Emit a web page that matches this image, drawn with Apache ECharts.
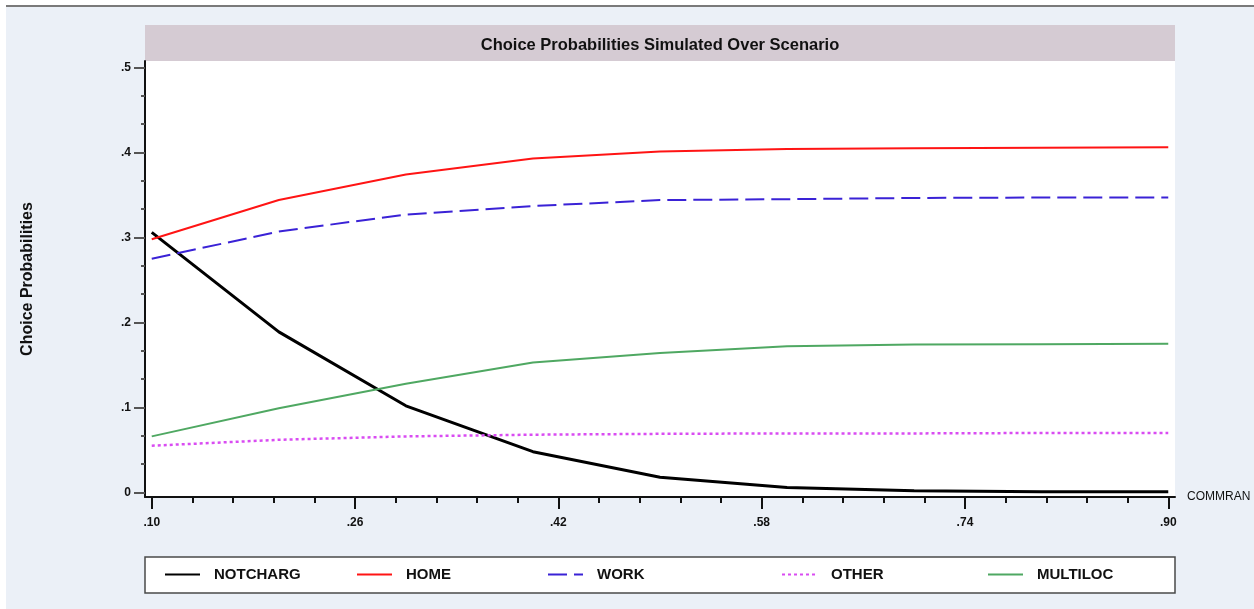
<!DOCTYPE html>
<html>
<head>
    <meta charset="UTF-8">
    <title>Choice Probabilities Simulated Over Scenario</title>
    <script type="text/javascript" src="https://cdn.jsdelivr.net/npm/echarts@6/dist/echarts.min.js"></script>
    <style>
        body { margin: 0; background: #ffffff; }
        #main { width: 1254px; height: 609px; }
    </style>
</head>
<body>
<div id="main"></div>
<script type="text/javascript">
    // scenario values (COMMRAN)
    var commran = [0.1, 0.2, 0.3, 0.4, 0.5, 0.6, 0.7, 0.8, 0.9];
    // simulated choice probabilities
    var notcharg = [0.306, 0.189, 0.102, 0.048, 0.018, 0.006, 0.002, 0.001, 0.001];
    var home     = [0.298, 0.344, 0.374, 0.393, 0.401, 0.404, 0.405, 0.4055, 0.406];
    var work     = [0.275, 0.307, 0.327, 0.337, 0.344, 0.345, 0.3465, 0.347, 0.347];
    var other    = [0.055, 0.062, 0.066, 0.068, 0.069, 0.0695, 0.0695, 0.070, 0.070];
    var multiloc = [0.066, 0.099, 0.128, 0.153, 0.164, 0.172, 0.174, 0.1745, 0.175];

    // tick labels / tick marks
    var xMajor = [0.10, 0.26, 0.42, 0.58, 0.74, 0.90];
    var xMinor = [0.132, 0.164, 0.196, 0.228, 0.292, 0.324, 0.356, 0.388, 0.452, 0.484,
                  0.516, 0.548, 0.612, 0.644, 0.676, 0.708, 0.772, 0.804, 0.836, 0.868];
    var yMajor = [0, 0.1, 0.2, 0.3, 0.4, 0.5];
    var yMinor = [0.0333, 0.0667, 0.1333, 0.1667, 0.2333, 0.2667, 0.3333, 0.3667, 0.4333, 0.4667];

    var FONT = "'Liberation Sans', Arial, sans-serif";

    function pairs(ys) {
        return commran.map(function (x, i) { return [x, ys[i]]; });
    }
    function stripZero(s) {
        return s === '0' ? '0' : s.replace(/^0/, '');
    }

    var myChart = echarts.init(document.getElementById('main'));

    var xRange = {min: 0.0947, max: 0.9053};
    var yRange = {min: -0.0053, max: 0.5076};

    var legendStyle = {fontFamily: FONT, fontWeight: 'bold', fontSize: 15, color: '#111', padding: [0, 0, 0, 9]};
    function oneLegend(name, left) {
        return {
            data: [name], left: left, top: 567, padding: 0,
            itemWidth: 35, itemHeight: 14, selectedMode: false,
            itemStyle: {opacity: 0},
            textStyle: legendStyle, z: 10
        };
    }

    var option = {
        animation: false,
        backgroundColor: '#ffffff',
        textStyle: {fontFamily: FONT},
        graphic: [
            {type: 'rect', z: -10, shape: {x: 6, y: 7, width: 1248, height: 602}, style: {fill: '#ebf0f7'}},
            {type: 'rect', z: -9, shape: {x: 6, y: 5, width: 1248, height: 2}, style: {fill: '#7a7a7a'}},
            {type: 'rect', z: -8, shape: {x: 145, y: 25, width: 1030, height: 36}, style: {fill: '#d5cbd3'}},
            {type: 'rect', z: -8, shape: {x: 145, y: 557, width: 1030, height: 36},
                style: {fill: '#ffffff', stroke: '#4a4a4a', lineWidth: 1.5}}
        ],
        title: {
            text: 'Choice Probabilities Simulated Over Scenario',
            left: 660, top: 37, padding: 0, textAlign: 'center',
            textStyle: {fontFamily: FONT, fontWeight: 'bold', fontSize: 16.5, color: '#111'}
        },
        legend: [
            oneLegend('NOTCHARG', 164),
            oneLegend('HOME', 356),
            oneLegend('WORK', 547),
            oneLegend('OTHER', 781),
            oneLegend('MULTILOC', 987)
        ],
        grid: {
            left: 145, top: 61, width: 1030, height: 436,
            show: true, backgroundColor: '#ffffff', borderWidth: 0
        },
        xAxis: [{
            type: 'value', min: xRange.min, max: xRange.max,
            name: 'COMMRAN', nameLocation: 'end', nameGap: 12,
            nameTextStyle: {fontFamily: FONT, fontSize: 12, color: '#111', verticalAlign: 'middle'},
            axisLine: {show: true, onZero: false, lineStyle: {color: '#111', width: 2}},
            axisTick: {show: true, length: 12, customValues: xMajor, lineStyle: {color: '#111', width: 2}},
            axisLabel: {
                customValues: xMajor, margin: 20,
                fontFamily: FONT, fontWeight: 'bold', fontSize: 12, color: '#111',
                formatter: function (v) { return stripZero(v.toFixed(2)); }
            },
            splitLine: {show: false}
        }, {
            type: 'value', min: xRange.min, max: xRange.max, position: 'bottom',
            axisLine: {show: false, onZero: false},
            axisTick: {show: true, length: 6, customValues: xMinor, lineStyle: {color: '#111', width: 2}},
            axisLabel: {show: false},
            splitLine: {show: false}
        }],
        yAxis: [{
            type: 'value', min: yRange.min, max: yRange.max,
            name: 'Choice Probabilities', nameLocation: 'middle', nameGap: 109, nameRotate: 90,
            nameTextStyle: {fontFamily: FONT, fontWeight: 'bold', fontSize: 16, color: '#111'},
            axisLine: {show: true, onZero: false, lineStyle: {color: '#111', width: 2}},
            axisTick: {show: true, length: 11, customValues: yMajor, lineStyle: {color: '#555', width: 2}},
            axisLabel: {
                customValues: yMajor, margin: 14,
                fontFamily: FONT, fontWeight: 'bold', fontSize: 12, color: '#111',
                formatter: function (v) { return stripZero(String(v)); }
            },
            splitLine: {show: false}
        }, {
            type: 'value', min: yRange.min, max: yRange.max, position: 'left',
            axisLine: {show: false, onZero: false},
            axisTick: {show: true, length: 4, customValues: yMinor, lineStyle: {color: '#555', width: 2}},
            axisLabel: {show: false},
            splitLine: {show: false}
        }],
        series: [
            {name: 'NOTCHARG', type: 'line', symbol: 'none', data: pairs(notcharg),
                lineStyle: {color: '#000000', width: 3}, itemStyle: {color: '#000000'}},
            {name: 'HOME', type: 'line', symbol: 'none', data: pairs(home),
                lineStyle: {color: '#ff1414', width: 2}, itemStyle: {color: '#ff1414'}},
            {name: 'WORK', type: 'line', symbol: 'none', data: pairs(work),
                lineStyle: {color: '#3a22d6', width: 2, type: [19, 7]}, itemStyle: {color: '#3a22d6'}},
            {name: 'OTHER', type: 'line', symbol: 'none', data: pairs(other),
                lineStyle: {color: '#d94cf2', width: 2.5, type: [3, 3]}, itemStyle: {color: '#d94cf2'}},
            {name: 'MULTILOC', type: 'line', symbol: 'none', data: pairs(multiloc),
                lineStyle: {color: '#4fa862', width: 2}, itemStyle: {color: '#4fa862'}}
        ]
    };

    myChart.setOption(option);
</script>
</body>
</html>
